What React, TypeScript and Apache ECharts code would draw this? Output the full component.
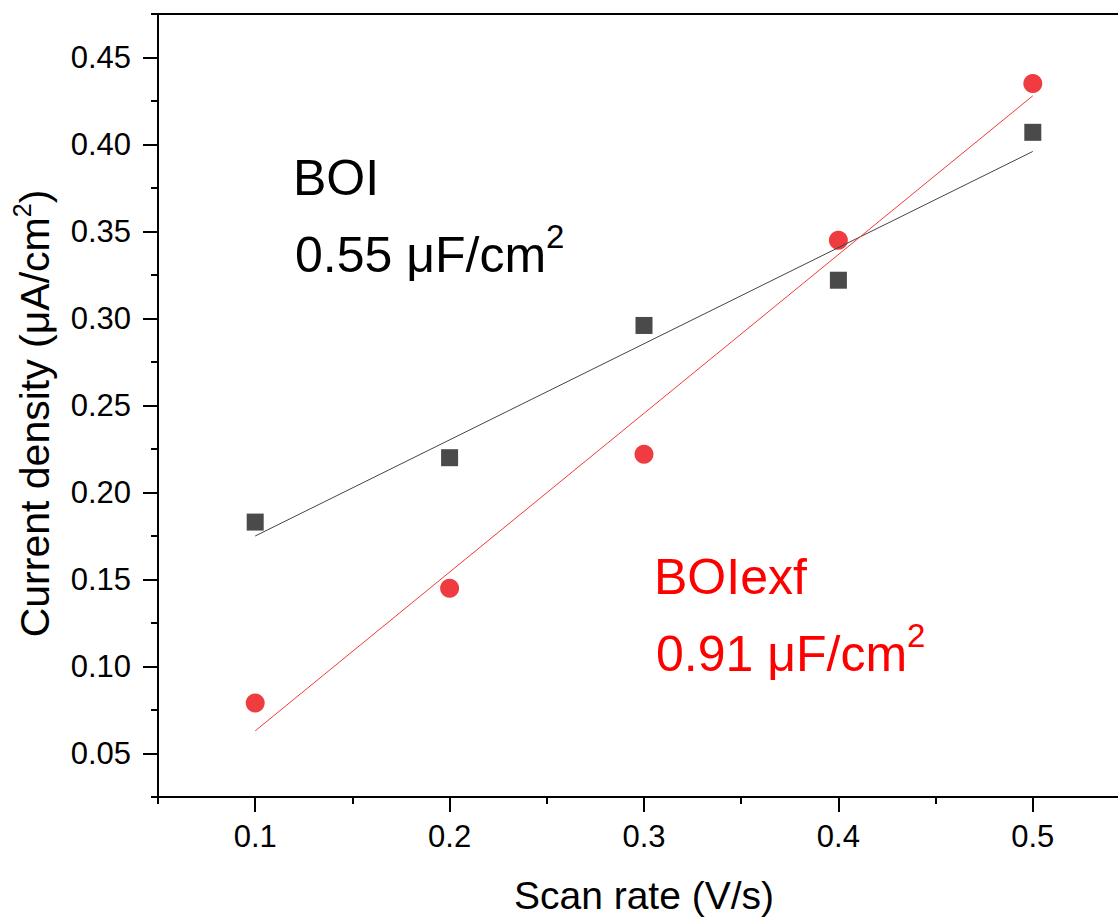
import React, { useEffect, useRef } from "react";
import * as echarts from "echarts";

const scanRates = [0.1, 0.2, 0.3, 0.4, 0.5];
const boi = [0.183, 0.22, 0.296, 0.322, 0.407];
const boiExf = [0.079, 0.145, 0.222, 0.345, 0.435];
const fitX = [0.1, 0.5];
const boiFit = [0.175, 0.396];
const boiExfFit = [0.063, 0.428];
const xMajorTicks = [0.1, 0.2, 0.3, 0.4, 0.5];
const yMajorTicks = [0.05, 0.1, 0.15, 0.2, 0.25, 0.3, 0.35, 0.4, 0.45];

const FONT = 'Arial, "Liberation Sans", sans-serif';

export default function App() {
  const ref = useRef<HTMLDivElement>(null);
  useEffect(() => {
    if (!ref.current) return;
    const chart = echarts.init(ref.current, null, { renderer: "svg" });
    const xRange = { min: 0.05, max: 0.55 };
    const yRange = { min: 0.025, max: 0.475 };
    const axisLine = { show: true, lineStyle: { color: "#000", width: 2 } };
    chart.setOption({
      animation: false,
      backgroundColor: "#fff",
      grid: { left: 158, top: 14, right: 40, bottom: 125, containLabel: false },
      xAxis: [
        {
          type: "value",
          position: "bottom",
          ...xRange,
          interval: 0.05,
          axisLine,
          axisTick: { show: true, length: 7, lineStyle: { color: "#000", width: 2 } },
          axisLabel: { show: false },
          splitLine: { show: false },
        },
        {
          type: "value",
          position: "top",
          ...xRange,
          interval: 0.05,
          axisLine,
          axisTick: { show: false },
          axisLabel: { show: false },
          splitLine: { show: false },
        },
        {
          type: "value",
          position: "bottom",
          ...xRange,
          interval: 0.05,
          axisLine: { show: false },
          axisTick: {
            show: true,
            length: 15,
            customValues: xMajorTicks,
            lineStyle: { color: "#000", width: 2 },
          },
          axisLabel: {
            show: true,
            customValues: xMajorTicks,
            formatter: (v: number) => v.toFixed(1),
            fontSize: 31,
            fontFamily: FONT,
            color: "#000",
            margin: 24,
          },
          splitLine: { show: false },
          name: "Scan rate (V/s)",
          nameLocation: "middle",
          nameGap: 79,
          nameTextStyle: { fontSize: 39, fontFamily: FONT, color: "#000" },
        },
      ],
      yAxis: [
        {
          type: "value",
          position: "left",
          ...yRange,
          interval: 0.025,
          axisLine,
          axisTick: { show: true, length: 7, lineStyle: { color: "#000", width: 2 } },
          axisLabel: { show: false },
          splitLine: { show: false },
        },
        {
          type: "value",
          position: "left",
          ...yRange,
          interval: 0.025,
          axisLine: { show: false },
          axisTick: {
            show: true,
            length: 15,
            customValues: yMajorTicks,
            lineStyle: { color: "#000", width: 2 },
          },
          axisLabel: {
            show: true,
            customValues: yMajorTicks,
            formatter: (v: number) => v.toFixed(2),
            fontSize: 31,
            fontFamily: FONT,
            color: "#000",
            margin: 27,
          },
          splitLine: { show: false },
          name: "Current density (μA/cm{sup|2})",
          nameLocation: "middle",
          nameGap: 97,
          nameTextStyle: {
            fontSize: 41,
            fontFamily: FONT,
            color: "#000",
            lineHeight: 50,
            padding: [0, 16, 0, 0],
            rich: {
              sup: { fontSize: 25, fontFamily: FONT, color: "#000", verticalAlign: "top", lineHeight: 25 },
            },
          },
        },
      ],
      series: [
        {
          name: "BOI",
          type: "scatter",
          xAxisIndex: 0,
          yAxisIndex: 0,
          symbol: "rect",
          symbolSize: 17,
          itemStyle: { color: "#4a4a4a", opacity: 1 },
          data: scanRates.map((x, i) => [x, boi[i]]),
          z: 2,
        },
        {
          name: "BOIexf",
          type: "scatter",
          xAxisIndex: 0,
          yAxisIndex: 0,
          symbol: "circle",
          symbolSize: 19,
          itemStyle: { color: "#ef3c40", opacity: 1 },
          data: scanRates.map((x, i) => [x, boiExf[i]]),
          z: 2,
        },
        {
          name: "BOI fit",
          type: "line",
          xAxisIndex: 0,
          yAxisIndex: 0,
          symbol: "none",
          lineStyle: { color: "#444", width: 1 },
          data: fitX.map((x, i) => [x, boiFit[i]]),
          z: 3,
        },
        {
          name: "BOIexf fit",
          type: "line",
          xAxisIndex: 0,
          yAxisIndex: 0,
          symbol: "none",
          lineStyle: { color: "#f03a3a", width: 1 },
          data: fitX.map((x, i) => [x, boiExfFit[i]]),
          z: 3,
        },
      ],
      graphic: [
        {
          type: "text",
          x: 293,
          y: 178,
          style: { text: "BOI", fontSize: 50, fontFamily: FONT, fill: "#000", align: "left", verticalAlign: "middle" },
        },
        {
          type: "text",
          x: 295,
          y: 255,
          style: {
            text: "0.55 μF/cm{sup|2}",
            fontSize: 50,
            fontFamily: FONT,
            fill: "#000",
            lineHeight: 70,
            align: "left",
            verticalAlign: "middle",
            rich: { sup: { fontSize: 33, fontFamily: FONT, fill: "#000", verticalAlign: "top", lineHeight: 33 } },
          },
        },
        {
          type: "text",
          x: 654,
          y: 577,
          style: { text: "BOIexf", fontSize: 50, fontFamily: FONT, fill: "#ff0000", align: "left", verticalAlign: "middle" },
        },
        {
          type: "text",
          x: 656,
          y: 654,
          style: {
            text: "0.91 μF/cm{sup|2}",
            fontSize: 50,
            fontFamily: FONT,
            fill: "#ff0000",
            lineHeight: 70,
            align: "left",
            verticalAlign: "middle",
            rich: { sup: { fontSize: 33, fontFamily: FONT, fill: "#ff0000", verticalAlign: "top", lineHeight: 33 } },
          },
        },
      ],
    });
    return () => chart.dispose();
  }, []);
  return (
    <div
      style={{ position: "fixed", left: 0, top: 0, width: 1118, height: 922, overflow: "hidden", background: "#fff" }}
    >
      <div ref={ref} style={{ width: 1170, height: 922 }} />
    </div>
  );
}
